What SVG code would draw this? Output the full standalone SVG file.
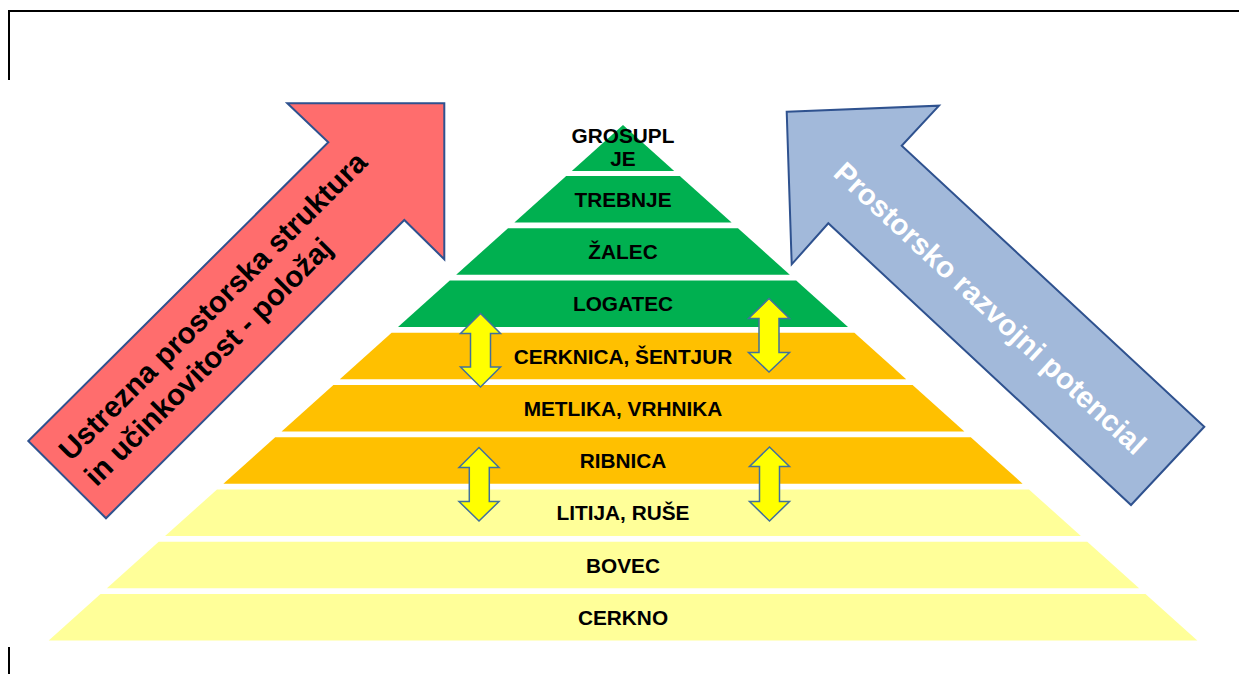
<svg xmlns="http://www.w3.org/2000/svg" width="1239" height="674" viewBox="0 0 1239 674">
<style>
.g{fill:#00B050}.o{fill:#FFC000}.y{fill:#FFFF99}
.lbl{font-family:"Liberation Sans",Arial,sans-serif;font-weight:bold;font-size:20.8px;fill:#000;text-anchor:middle}
.big{font-family:"Liberation Sans",Arial,sans-serif;font-weight:bold;font-size:29.5px}
.da{fill:#FFFF00;stroke:#41719C;stroke-width:1.5;stroke-linejoin:miter}
.frame{stroke:#000;stroke-width:2;fill:none}
</style>
<rect width="1239" height="674" fill="#fff"/>
<g id="frame">
<path class="frame" d="M9,80 V11 H1239"/>
<path class="frame" d="M9,647 V674"/>
</g>
<g id="arrow-left">
<path d="M444.3,103.3 L444.3,259.3 L404.3,220 L106,518.3 L28.3,441 L328.3,142.3 L287.3,103.3 Z" fill="#FF6D6D" stroke="#2F528F" stroke-width="2" stroke-linejoin="miter"/>
<g transform="translate(71,462) rotate(-45)">
<text class="big" x="0" y="0" fill="#000">Ustrezna prostorska struktura</text>
<text class="big" x="0" y="36" fill="#000">in učinkovitost - položaj</text>
</g>
</g>
<g id="arrow-right">
<path d="M786.7,111.7 L939,105.7 L901.7,145.7 L1204.3,426.7 L1131,505 L828.3,223.3 L791.7,264.3 Z" fill="#A2B9DA" stroke="#2F528F" stroke-width="2" stroke-linejoin="miter"/>
<text class="big" fill="#fff" transform="translate(832,175) rotate(42.9)">Prostorsko razvojni potencial</text>
</g>
<g id="l0"><polygon class="g" points="623,125 674.2,171 571.8,171"/><text class="lbl" x="623" y="142.5">GROSUPL</text><text class="lbl" x="623" y="166">JE</text></g>
<g id="l1"><polygon class="g" points="566.2,176 679.8,176 731.6,222.5 514.4,222.5"/><text class="lbl" x="623" y="206.75">TREBNJE</text></g>
<g id="l2"><polygon class="g" points="508,228.25 738,228.25 789.8,274.75 456.2,274.75"/><text class="lbl" x="623" y="259">ŽALEC</text></g>
<g id="l3"><polygon class="g" points="449.8,280.5 796.2,280.5 848,327 398,327"/><text class="lbl" x="623" y="311.25">LOGATEC</text></g>
<g id="l4"><polygon class="o" points="391.6,332.75 854.4,332.75 906.2,379.25 339.8,379.25"/><text class="lbl" x="623" y="363.5">CERKNICA, ŠENTJUR</text></g>
<g id="l5"><polygon class="o" points="333.4,385 912.6,385 964.4,431.5 281.6,431.5"/><text class="lbl" x="623" y="415.75">METLIKA, VRHNIKA</text></g>
<g id="l6"><polygon class="o" points="275.2,437.25 970.8,437.25 1022.6,483.75 223.4,483.75"/><text class="lbl" x="623" y="468">RIBNICA</text></g>
<g id="l7"><polygon class="y" points="217,489.5 1029,489.5 1080.9,536 165.1,536"/><text class="lbl" x="623" y="520.25">LITIJA, RUŠE</text></g>
<g id="l8"><polygon class="y" points="158.7,541.75 1087.3,541.75 1139.1,588.25 106.9,588.25"/><text class="lbl" x="623" y="572.5">BOVEC</text></g>
<g id="l9"><polygon class="y" points="100.5,594 1145.5,594 1197.3,640.5 48.7,640.5"/><text class="lbl" x="623" y="624.75">CERKNO</text></g>
<g id="connectors">
<path class="da" d="M480.5,313.5 L500.5,333.5 L490.5,333.5 L490.5,367 L500.5,367 L480.5,387 L460.5,367 L470.5,367 L470.5,333.5 L460.5,333.5 Z"/>
<path class="da" d="M769,298.5 L789.5,318.5 L779,318.5 L779,352.5 L789.5,352.5 L769,372 L748.5,352.5 L759,352.5 L759,318.5 L748.5,318.5 Z"/>
<path class="da" d="M479,447.5 L499,467.5 L489.3,467.5 L489.3,501.5 L499,501.5 L479,521 L459,501.5 L469.3,501.5 L469.3,467.5 L459,467.5 Z"/>
<path class="da" d="M769.5,447 L789.5,466.5 L779.5,466.5 L779.5,501.5 L789.5,501.5 L769.5,521 L749.5,501.5 L759.5,501.5 L759.5,466.5 L749.5,466.5 Z"/>
</g>
</svg>
